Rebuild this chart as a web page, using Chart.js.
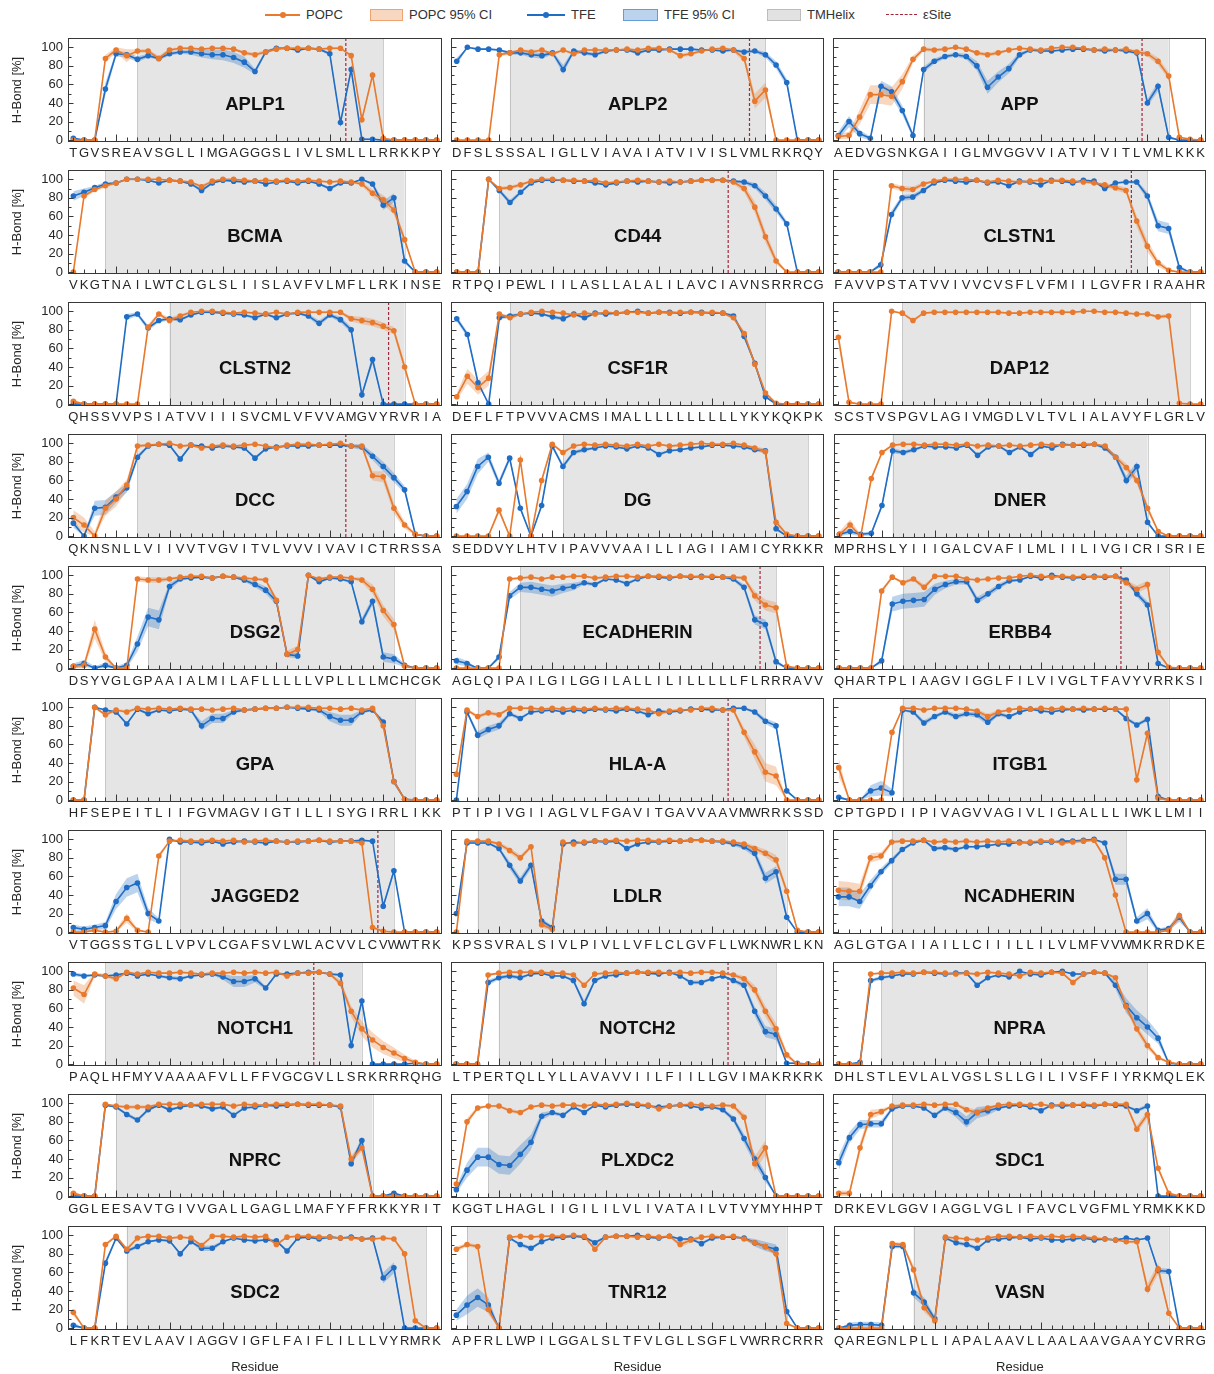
<!DOCTYPE html>
<html>
<head>
<meta charset="utf-8">
<script src="https://cdn.jsdelivr.net/npm/chart.js@4.4.1/dist/chart.umd.min.js"></script>
<style>
  body { margin: 0; background: #fff; width: 1214px; height: 1374px; position: relative; overflow: hidden;
         font-family: "Liberation Sans", Arial, sans-serif; }
  canvas { position: absolute; }
  .lg { position: absolute; top: 6px; height: 18px; line-height: 18px; font-size: 13px; color: #333; white-space: nowrap; }
</style>
</head>
<body>
<div id="legend"></div>
<script>
// ---- data ----
const proteins = ['APLP1','APLP2','APP','BCMA','CD44','CLSTN1','CLSTN2','CSF1R','DAP12','DCC','DG','DNER',
  'DSG2','ECADHERIN','ERBB4','GPA','HLA-A','ITGB1','JAGGED2','LDLR','NCADHERIN','NOTCH1','NOTCH2','NPRA',
  'NPRC','PLXDC2','SDC1','SDC2','TNR12','VASN'];

const sequences = [
  'TGVSREAVSGLLIMGAGGGSLIVLSMLLLRRKKPY','DFSLSSSALIGLLVIAVAIATVIVISLVMLRKRQY','AEDVGSNKGAIIGLMVGGVVIATVIVITLVMLKKK',
  'VKGTNAILWTCLGLSLIISLAVFVLMFLLRKINSE','RTPQIPEWLIILASLLALALILAVCIAVNSRRRCG','FAVVPSTATVVIVVCVSFLVFMIILGVFRIRAAHR',
  'QHSSVVPSIATVVIIISVCMLVFVVAMGVYRVRIA','DEFLFTPVVVACMSIMALLLLLLLLLLYKYKQKPK','SCSTVSPGVLAGIVMGDLVLTVLIALAVYFLGRLV',
  'QKNSNLLVIIVVTVGVITVLVVVIVAVICTRRSSA','SEDDVYLHTVIPAVVVAAILLIAGIIAMICYRKKR','MPRHSLYIIIGALCVAFILMLIILIVGICRISRIE',
  'DSYVGLGPAAIALMILAFLLLLLVPLLLLMCHCGK','AGLQIPAILGILGGILALLILILLLLLFLRRRAVV','QHARTPLIAAGVIGGLFILVIVGLTFAVYVRRKSI',
  'HFSEPEITLIIFGVMAGVIGTILLISYGIRRLIKK','PTIPIVGIIAGLVLFGAVITGAVVAAVMWRRKSSD','CPTGPDIIPIVAGVVAGIVLIGLALLLIWKLLMII',
  'VTGGSSTGLLVPVLCGAFSVLWLACVVLCVWWTRK','KPSSVRALSIVLPIVLLVFLCLGVFLLWKNWRLKN','AGLGTGAIIAILLCIIILLILVLMFVVWMKRRDKE',
  'PAQLHFMYVAAAAFVLLFFVGCGVLLSRKRRRQHG','LTPERTQLLYLLAVAVVIILFIILLGVIMAKRKRK','DHLSTLEVLALVGSLSLLGILIVSFFIYRKMQLEK',
  'GGLEESAVTGIVVGALLGAGLLMAFYFFRKKYRIT','KGGTLHAGLIIGILILVLIVATAILVTVYMYHHPT','DRKEVLGGVIAGGLVGLIFAVCLVGFMLYRMKKKD',
  'LFKRTEVLAAVIAGGVIGFLFAIFLILLLVYRMRK','APFRLLWPILGGALSLTFVLGLLSGFLVWRRCRRR','QAREGNLPLLIAPALAAVLLAALAAVGAAYCVRRG'];

// TM helix span (residue index start, end)
const tmHelix = [[6,29],[5,29],[8,31],[3,31],[4,30],[6,29],[9,31],[5,29],[6,33],[6,30],[10,33],[5,29],
  [7,30],[6,30],[6,31],[3,32],[2,29],[6,31],[10,30],[2,31],[5,27],[3,27],[4,30],[4,29],
  [4,28],[3,29],[5,29],[5,33],[1,31],[7,31]];

// epsilon cleavage site (between residues), null if none
const eSite = [25.5,27.5,28.5,null,25.5,27.5,29.5,null,null,25.5,null,null,
  null,28.5,26.5,null,25.5,null,28.5,null,null,22.5,25.5,null,
  null,null,null,null,null,null];

const yTicks = [0, 20, 40, 60, 80, 100];

const popcValues = [
  [0,0,0,88,97,91,96,96,88,97,99,99,98,99,99,98,94,92,95,98,99,99,99,98,99,99,91,22,70,2,0,0,0,0,0],
  [0,0,0,0,92,94,97,95,97,93,97,93,97,97,97,97,98,97,99,99,97,91,93,96,98,99,97,88,42,54,0,0,0,0,0],
  [4,5,25,49,49,47,63,87,98,97,98,100,98,94,92,94,97,99,98,97,99,100,100,99,97,98,97,98,95,93,85,69,3,1,0],
  [0,82,89,93,96,100,100,100,100,99,98,97,92,98,100,100,99,98,99,98,99,98,99,98,97,98,97,95,85,78,67,35,0,0,0],
  [0,0,0,100,90,91,94,98,100,100,99,99,98,99,96,97,98,99,98,97,98,97,98,99,99,99,97,90,70,38,12,0,0,0,0],
  [0,0,0,0,0,93,90,89,95,98,100,100,100,99,97,99,98,97,98,99,98,99,98,97,96,94,91,88,55,28,10,2,0,0,0],
  [3,0,0,0,0,0,0,83,97,90,95,99,100,100,99,98,99,98,97,99,97,99,99,99,99,99,92,90,88,84,79,40,0,0,0],
  [8,30,18,28,97,93,97,99,100,99,98,96,98,97,99,98,99,99,98,99,98,99,99,98,99,98,93,76,43,12,1,0,0,0,0],
  [72,2,0,0,0,100,98,90,98,99,99,99,99,99,99,99,98,98,99,99,99,99,99,100,100,99,99,98,97,97,94,95,1,0,0],
  [20,12,0,30,40,55,97,98,99,100,97,98,95,97,98,97,98,99,97,95,98,99,99,98,99,100,97,97,65,64,30,12,2,0,0],
  [0,0,0,0,28,0,82,0,60,99,90,97,99,98,99,98,97,99,97,99,97,98,99,100,99,99,100,98,95,91,15,2,0,0,0],
  [2,12,0,62,90,98,99,99,98,99,99,98,99,97,98,97,98,97,98,99,98,98,98,99,99,97,85,74,60,30,5,0,0,0,0],
  [2,3,42,12,0,0,96,95,95,96,98,99,99,97,99,98,97,96,95,73,15,20,100,96,98,98,97,95,85,62,47,2,0,0,0],
  [0,0,0,0,0,96,97,98,96,98,98,99,99,97,98,99,99,98,99,99,98,99,99,98,99,98,98,97,78,68,65,2,0,0,0],
  [0,0,0,0,83,98,92,96,87,99,99,99,96,95,96,97,97,99,100,99,98,99,98,99,98,99,99,92,85,90,17,1,0,0,0],
  [0,0,100,92,97,95,99,98,99,98,99,98,98,97,98,99,97,98,99,99,100,100,100,99,99,98,99,97,99,80,20,1,0,0,0],
  [28,97,90,94,92,99,99,99,98,99,98,99,98,99,98,99,99,98,97,93,96,97,97,99,99,97,97,73,52,30,26,0,0,0,0],
  [35,0,0,0,0,73,99,99,97,99,99,99,98,96,90,95,97,99,98,99,98,99,98,99,98,99,98,98,22,72,2,0,0,0,0],
  [0,0,2,0,1,15,2,0,82,98,99,98,98,99,98,99,97,98,99,98,97,98,98,99,98,98,98,96,5,1,0,0,0,0,0],
  [0,98,98,98,95,88,80,92,8,3,97,95,97,98,98,99,98,99,99,98,99,98,99,99,98,98,97,95,90,85,78,44,2,0,0],
  [45,44,44,80,82,97,98,98,99,97,98,97,98,97,98,97,98,96,97,98,98,96,97,98,99,80,40,0,0,0,0,2,18,0,0],
  [82,75,97,95,92,99,97,99,98,98,99,98,97,98,98,99,98,99,98,99,95,98,98,99,97,87,57,38,26,18,12,6,2,0,0],
  [0,0,0,96,98,99,99,99,99,98,98,96,85,97,98,99,98,99,99,99,98,99,98,99,99,98,96,92,80,57,38,10,0,0,0],
  [0,0,0,97,98,98,99,98,99,99,98,97,98,97,99,98,97,95,99,98,99,98,88,97,99,98,93,62,38,20,7,2,0,0,0],
  [3,0,0,99,97,96,96,96,99,99,99,98,99,99,99,97,99,98,98,99,99,99,99,99,98,97,40,52,0,0,0,0,0,0,0],
  [13,80,95,97,97,92,90,96,98,97,98,98,97,99,98,99,100,99,98,94,97,98,99,98,97,98,97,85,35,52,0,0,0,0,0],
  [3,3,52,88,91,97,98,98,99,98,99,99,93,90,95,98,99,99,98,99,97,99,98,99,98,99,99,99,72,88,30,3,0,0,0],
  [17,0,0,90,99,85,97,99,99,97,98,97,89,99,99,98,99,98,99,90,98,99,99,98,98,97,97,96,96,97,96,80,8,0,0],
  [85,90,88,20,0,98,99,98,99,99,99,100,99,85,98,99,99,98,99,98,99,90,95,98,99,98,99,96,92,88,80,5,0,0,0],
  [0,0,0,0,0,91,90,63,22,8,98,97,96,95,97,99,99,98,99,98,99,98,99,98,97,96,95,93,93,42,64,16,0,0,0]];

// half width of the 95% CI
const popcCI = [
  [1,0,0,4,3,7,2,2,3,2,1,1,1,1,1,1,2,2,2,1,1,1,1,1,1,1,2,3,3,1,0,0,0,0,0],
  [0,0,0,0,2,2,1,2,1,2,1,2,1,1,1,1,1,1,1,1,1,2,2,1,1,1,2,4,8,8,0,0,0,0,0],
  [3,4,8,10,10,10,8,4,2,2,1,1,1,2,2,2,1,1,1,1,1,1,1,1,1,1,1,1,2,3,4,4,1,1,0],
  [0,3,2,2,1,1,1,1,1,1,1,1,2,1,1,1,1,1,1,1,1,1,1,1,1,1,1,2,4,5,5,4,0,0,0],
  [0,0,0,1,2,2,2,1,1,1,1,1,1,1,1,1,1,1,1,1,1,1,1,1,1,1,2,4,6,6,4,0,0,0,0],
  [0,0,0,0,0,3,3,3,2,1,1,1,1,1,1,1,1,1,1,1,1,1,1,1,1,2,3,3,6,6,4,2,0,0,0],
  [3,0,0,0,0,0,0,3,2,3,2,1,1,1,1,1,1,1,1,1,1,1,1,1,1,1,3,4,4,4,4,5,0,0,0],
  [4,8,8,8,2,2,1,1,1,1,1,1,1,1,1,1,1,1,1,1,1,1,1,1,1,1,2,3,3,2,1,0,0,0,0],
  [8,2,0,0,0,1,1,2,1,1,1,1,1,1,1,1,1,1,1,1,1,1,1,1,1,1,1,1,1,1,2,2,1,0,0],
  [8,8,5,8,8,6,2,1,1,1,1,1,2,1,1,1,1,1,1,2,1,1,1,1,1,1,1,2,5,6,6,4,1,0,0],
  [0,0,0,0,4,0,3,0,3,1,2,1,1,1,1,1,1,1,1,1,1,1,1,1,1,1,1,1,2,3,4,1,0,0,0],
  [3,6,2,3,2,1,1,1,1,1,1,1,1,1,1,1,1,1,1,1,1,1,1,1,1,1,3,4,4,4,2,0,0,0,0],
  [2,3,10,5,0,0,3,3,3,2,1,1,1,1,1,1,1,1,2,4,4,4,1,2,1,1,1,3,5,6,6,2,0,0,0],
  [0,0,0,0,0,2,1,1,1,1,1,1,1,1,1,1,1,1,1,1,1,1,1,1,1,1,1,2,5,6,6,2,0,0,0],
  [0,0,0,0,3,1,2,2,3,1,1,1,1,1,1,1,1,1,1,1,1,1,1,1,1,1,1,3,4,4,3,1,0,0,0],
  [0,0,1,2,1,2,1,1,1,1,1,1,1,1,1,1,1,1,1,1,1,1,1,1,1,1,1,1,1,3,3,1,0,0,0],
  [4,2,2,2,2,1,1,1,1,1,1,1,1,1,1,1,1,1,1,2,2,1,1,1,1,1,2,5,8,10,10,0,0,0,0],
  [10,0,0,0,0,3,1,1,1,1,1,1,1,2,3,2,1,1,1,1,1,1,1,1,1,1,1,1,3,3,1,0,0,0,0],
  [0,0,2,0,2,5,2,0,3,1,1,1,1,1,1,1,1,1,1,1,1,1,1,1,1,1,1,2,2,1,0,0,0,0,0],
  [0,1,1,1,2,3,3,2,3,2,1,1,1,1,1,1,1,1,1,1,1,1,1,1,1,1,1,2,3,4,5,4,1,0,0],
  [10,10,8,5,4,2,1,1,1,1,1,1,1,1,1,1,1,2,1,1,1,2,1,1,1,3,4,0,0,0,0,2,5,0,0],
  [8,10,2,2,2,1,1,1,1,1,1,1,1,1,1,1,1,1,1,1,2,1,1,1,1,4,6,8,8,7,6,4,2,0,0],
  [0,0,0,2,1,1,1,1,1,1,1,1,2,1,1,1,1,1,1,1,1,1,1,1,1,1,2,3,5,6,6,4,0,0,0],
  [0,0,0,1,1,1,1,1,1,1,1,1,1,1,1,1,1,2,1,1,1,1,2,1,1,1,2,4,4,4,2,1,0,0,0],
  [3,0,0,2,1,2,2,2,1,1,1,1,1,1,1,1,1,1,1,1,1,1,1,1,1,1,4,4,0,0,0,0,0,0,0],
  [4,4,2,1,1,2,2,1,1,1,1,1,1,1,1,1,1,1,1,2,1,1,1,1,1,1,2,4,8,8,0,0,0,0,0],
  [3,3,6,5,3,1,1,1,1,1,1,1,3,3,2,1,1,1,1,1,1,1,1,1,1,1,1,1,4,4,3,2,0,0,0],
  [4,0,0,2,1,2,1,1,1,1,1,1,2,1,1,1,1,1,1,2,1,1,1,1,1,1,1,1,1,1,1,3,2,0,0],
  [3,2,2,5,0,1,1,1,1,1,1,1,1,2,1,1,1,1,1,1,1,3,3,1,1,1,1,1,2,2,3,2,0,0,0],
  [0,0,0,0,0,2,2,5,5,2,1,1,1,1,1,1,1,1,1,1,1,1,1,1,1,1,1,1,2,6,6,3,0,0,0]];

const tfeValues = [
  [2,0,0,55,93,92,87,91,88,93,95,95,93,92,92,89,84,74,95,99,99,97,99,98,93,19,76,1,1,0,0,0,0,0,0],
  [85,100,98,98,97,94,94,92,91,94,76,96,94,92,96,97,97,94,97,97,98,98,98,97,97,96,97,95,96,92,81,62,0,0,0],
  [5,20,7,2,58,52,32,5,76,85,90,92,90,80,57,68,77,92,97,96,96,97,98,98,97,96,97,96,94,40,58,3,0,0,0],
  [82,86,91,95,96,100,100,99,96,99,98,95,88,96,99,98,97,98,95,97,98,96,98,95,90,96,96,100,95,72,80,12,0,0,0],
  [0,0,0,100,88,75,86,96,99,99,99,98,98,96,94,96,98,97,98,97,96,97,98,99,99,99,98,97,93,82,68,52,0,0,0],
  [0,0,0,0,8,62,80,81,88,96,99,98,97,99,96,97,93,98,97,94,99,98,96,99,98,90,96,97,97,82,50,47,5,0,0],
  [0,0,0,0,0,94,97,82,90,92,91,96,99,99,98,97,96,93,97,93,97,98,95,87,96,91,80,10,48,0,0,0,0,0,0],
  [92,75,23,0,93,95,97,98,97,94,92,97,93,98,97,98,99,100,98,99,99,98,99,99,98,98,95,73,44,8,0,0,0,0,0],
  null,
  [14,0,30,31,42,52,85,97,99,98,83,98,97,95,97,96,95,84,94,96,97,97,97,98,98,98,97,96,86,75,63,50,2,0,0],
  [32,48,75,85,57,84,30,0,33,97,75,90,93,95,97,96,94,97,95,88,92,93,95,96,98,98,97,96,93,92,8,0,0,0,0],
  [2,5,2,3,33,92,90,93,97,96,96,95,98,87,96,97,90,96,88,97,95,99,98,98,99,95,85,60,75,15,0,0,0,0,0],
  [2,5,0,3,0,3,26,55,52,88,96,97,98,97,99,98,95,90,84,72,15,13,100,93,97,96,93,50,72,12,10,3,0,0,0],
  [8,5,0,0,12,78,87,87,85,83,86,88,92,90,96,95,91,96,99,98,97,99,98,99,98,98,96,87,52,47,7,0,0,0,0],
  [0,0,0,0,8,69,72,73,74,85,90,93,93,73,80,88,94,95,99,97,100,98,97,98,99,98,99,95,80,68,5,0,0,0,0],
  [0,0,100,97,95,82,98,93,97,96,98,97,80,88,88,95,97,98,99,99,100,99,98,97,90,86,86,95,97,84,20,1,0,0,0],
  [0,95,70,76,80,93,88,95,96,97,95,97,96,98,97,96,98,96,92,96,95,96,98,98,97,97,99,99,95,85,80,10,0,0,0],
  [3,0,0,10,13,8,97,95,83,90,95,90,93,92,84,93,90,95,98,96,95,97,98,97,98,98,98,88,81,87,4,0,0,0,0],
  [5,3,5,7,33,48,53,20,12,100,97,97,96,98,95,97,98,97,96,98,97,97,98,99,97,98,98,99,98,28,66,0,0,0,0],
  [20,96,96,96,90,72,55,72,12,5,95,97,96,98,97,98,90,95,97,97,98,98,99,99,98,97,95,92,85,58,65,16,0,0,0],
  [38,38,33,50,65,77,89,96,99,90,91,89,92,92,93,95,95,97,96,97,97,98,98,99,100,96,57,57,12,20,2,4,16,0,0],
  [97,95,96,95,96,98,95,97,95,93,92,95,96,97,94,89,89,92,82,97,97,98,99,99,97,96,20,68,0,0,0,0,1,0,0],
  [0,0,0,88,93,95,93,97,98,95,95,90,65,90,95,96,98,99,98,97,99,95,88,88,92,95,90,85,57,35,32,1,1,0,0],
  [0,0,2,90,93,95,97,97,99,98,97,98,98,85,93,96,94,100,97,96,99,100,97,97,99,98,85,63,50,40,28,1,0,0,0],
  [0,0,0,98,96,88,82,93,98,93,96,98,97,94,96,87,95,96,98,97,98,99,98,98,98,96,35,60,0,0,3,0,0,0,0],
  [7,28,42,42,34,33,45,58,86,90,87,96,90,98,96,98,99,98,97,96,97,98,97,95,96,93,83,62,40,20,0,0,0,0,0],
  [36,63,77,78,78,94,97,97,95,87,95,90,80,90,92,95,97,98,96,92,98,97,98,98,97,99,98,97,92,97,0,0,0,0,0],
  [3,0,0,70,97,83,88,93,95,94,80,93,86,86,93,97,95,94,95,94,83,97,98,96,98,97,98,96,97,54,65,0,0,0,0],
  [14,25,33,25,0,97,90,86,93,97,98,99,98,92,98,99,99,100,98,97,99,96,96,91,97,98,98,97,92,88,85,18,0,0,0],
  [0,3,4,4,3,88,88,38,28,10,97,92,90,86,95,96,97,98,96,97,95,95,96,97,95,96,95,97,95,97,62,61,0,0,0]];

const tfeCI = [
  [2,0,0,7,3,3,3,2,2,2,2,3,4,5,6,6,6,3,2,1,1,1,1,1,2,3,3,1,1,0,0,0,0,0,0],
  [4,1,1,1,1,2,2,3,3,2,5,2,2,2,2,1,1,2,1,1,1,1,1,1,1,1,1,2,2,3,4,4,0,0,0],
  [4,6,4,2,6,6,5,3,3,3,2,2,3,5,7,6,5,3,1,1,1,1,1,1,1,1,1,1,2,4,5,2,0,0,0],
  [5,4,2,2,1,1,1,1,1,1,1,1,2,1,1,1,1,1,1,1,1,1,1,1,2,1,1,1,2,5,5,3,0,0,0],
  [0,0,0,1,2,3,2,1,1,1,1,1,1,1,1,1,1,1,1,1,1,1,1,1,1,1,1,2,3,4,4,3,0,0,0],
  [0,1,1,1,3,4,3,3,2,1,1,1,1,1,1,1,1,1,1,1,1,1,1,1,1,2,1,1,2,4,6,6,3,0,0],
  [0,0,0,0,0,3,2,3,2,2,2,1,1,1,1,1,1,2,1,2,1,1,2,3,2,3,3,2,5,0,0,0,0,0,0],
  [3,3,3,0,2,2,1,1,1,2,2,1,2,1,1,1,1,1,1,1,1,1,1,1,1,1,2,3,3,2,0,0,0,0,0],
  null,
  [5,1,8,8,6,5,3,1,1,1,2,1,1,1,1,1,1,2,1,1,1,1,1,1,1,1,2,3,4,5,5,4,1,0,0],
  [8,8,8,5,4,3,3,0,3,2,3,2,2,1,1,1,1,1,1,2,1,1,1,1,1,1,1,1,2,2,2,0,0,0,0],
  [2,3,2,2,3,3,2,2,1,1,1,1,1,2,1,1,2,1,2,1,1,1,1,1,1,2,3,5,5,3,0,0,0,0,0],
  [3,4,2,3,2,3,8,10,10,4,2,1,1,1,1,1,2,3,4,4,3,3,1,2,1,1,2,4,4,5,5,2,0,0,0],
  [4,3,0,0,3,4,5,6,6,6,5,4,2,2,1,1,2,1,1,1,1,1,1,1,1,1,2,3,5,5,3,0,0,0,0],
  [0,0,0,0,3,8,8,8,8,6,4,3,3,4,3,3,2,1,1,1,1,1,1,1,1,1,1,2,3,4,2,0,0,0,0],
  [0,0,1,1,1,2,1,2,1,1,1,1,5,5,5,2,1,1,1,1,1,1,1,2,5,6,6,2,1,3,3,1,0,0,0],
  [0,2,4,4,4,2,2,1,1,1,1,1,1,1,1,1,1,1,2,1,1,1,1,1,1,1,1,1,2,3,4,2,0,0,0],
  [2,0,0,6,8,4,1,2,3,2,2,3,2,3,3,2,2,1,1,1,1,1,1,1,1,1,1,2,2,2,2,0,0,0,0],
  [3,3,3,4,8,10,10,6,3,1,1,1,1,1,1,1,1,1,1,1,1,1,1,1,1,1,1,1,1,3,3,0,0,0,0],
  [3,1,1,1,2,4,4,4,3,2,1,1,1,1,1,1,2,1,1,1,1,1,1,1,1,1,2,3,4,6,6,3,0,0,0],
  [10,10,8,6,4,3,2,1,1,2,2,2,1,1,1,1,1,1,1,1,1,1,1,1,1,2,6,6,4,6,2,2,5,0,0],
  [2,2,1,1,1,1,1,1,1,2,2,1,1,1,3,6,6,4,2,1,1,1,1,1,1,2,3,4,0,0,0,0,1,0,0],
  [0,0,0,3,2,2,2,1,1,1,1,2,4,2,1,1,1,1,1,1,1,1,2,2,1,1,2,3,5,6,6,1,1,0,0],
  [0,0,1,2,2,1,1,1,1,1,1,1,1,2,1,1,1,1,1,1,1,1,1,1,1,1,4,8,8,8,6,1,0,0,0],
  [0,0,0,1,1,2,2,2,1,2,1,1,1,2,1,2,1,1,1,1,1,1,1,1,1,1,4,4,0,0,2,0,0,0,0],
  [4,8,10,10,10,10,10,8,4,2,2,1,2,1,1,1,1,1,1,1,1,1,1,1,1,2,3,5,6,5,0,0,0,0,0],
  [8,6,5,4,4,2,1,1,1,2,2,5,6,6,5,2,1,1,1,2,1,1,1,1,1,1,1,1,2,2,0,0,0,0,0],
  [3,0,0,4,1,2,2,1,1,1,2,1,3,3,1,1,1,1,1,1,2,1,1,1,1,1,1,1,1,6,6,0,0,0,0],
  [6,10,10,8,0,1,2,2,1,1,1,1,1,2,1,1,1,1,1,1,1,1,1,2,1,1,1,1,4,5,5,2,0,0,0],
  [0,3,3,3,3,2,2,5,5,3,1,2,2,2,1,1,1,1,1,1,1,1,1,1,1,1,1,1,1,1,3,3,0,0,0]];

// ---- styling ----
const FONT = '"Liberation Sans", Arial, sans-serif';
const ORANGE = '#e8792d', ORANGE_FILL = 'rgba(232,121,45,0.3)';
const BLUE = '#1f6dc5', BLUE_FILL = 'rgba(31,109,197,0.3)';
const ESITE = '#a3283a';
const TM_FILL = 'rgba(160,160,160,0.28)';

Chart.defaults.font.family = FONT;
Chart.defaults.animation = false;

// legend (html)
const legend = document.getElementById('legend');
[
  { kind: 'line', color: ORANGE, text: 'POPC', x: 265, w: 35 },
  { kind: 'box', color: ORANGE_FILL, edge: 'rgba(232,121,45,0.55)', text: 'POPC 95% CI', x: 370, w: 33 },
  { kind: 'line', color: BLUE, text: 'TFE', x: 527, w: 38 },
  { kind: 'box', color: BLUE_FILL, edge: 'rgba(31,109,197,0.55)', text: 'TFE 95% CI', x: 623, w: 35 },
  { kind: 'box', color: 'rgba(160,160,160,0.3)', edge: 'rgba(150,150,150,0.5)', text: 'TMHelix', x: 767, w: 34 },
  { kind: 'dash', color: ESITE, text: 'εSite', x: 886, w: 31 }
].forEach(it => {
  const d = document.createElement('div');
  d.className = 'lg';
  d.style.left = it.x + 'px';
  let sample = '';
  if (it.kind === 'line') {
    sample = `<span style="position:absolute;left:0;top:8px;width:${it.w}px;border-top:2px solid ${it.color}"></span>` +
      `<span style="position:absolute;left:${it.w / 2 - 3}px;top:6px;width:6px;height:6px;border-radius:3px;background:${it.color}"></span>`;
  } else if (it.kind === 'box') {
    sample = `<span style="position:absolute;left:0;top:3px;width:${it.w - 2}px;height:10px;background:${it.color};border:1px solid ${it.edge}"></span>`;
  } else {
    sample = `<span style="position:absolute;left:0;top:8px;width:${it.w}px;border-top:1.5px dashed ${it.color}"></span>`;
  }
  d.innerHTML = sample + `<span style="position:absolute;left:${it.w + 6}px;top:0">${it.text}</span>`;
  legend.appendChild(d);
});

// TM helix band, epsilon site, panel name, frame and inward ticks
const panelDecor = {
  id: 'panelDecor',
  beforeDatasetsDraw(chart, args, opts) {
    const { ctx, chartArea: a, scales: { x } } = chart;
    const x0 = x.getPixelForValue(opts.tm[0]);
    const x1 = x.getPixelForValue(opts.tm[1]);
    ctx.save();
    ctx.fillStyle = TM_FILL;
    ctx.fillRect(x0, a.top, x1 - x0, a.bottom - a.top);
    ctx.strokeStyle = 'rgba(150,150,150,0.45)';
    ctx.lineWidth = 1;
    ctx.beginPath();
    ctx.moveTo(Math.round(x0) + 0.5, a.top); ctx.lineTo(Math.round(x0) + 0.5, a.bottom);
    ctx.moveTo(Math.round(x1) + 0.5, a.top); ctx.lineTo(Math.round(x1) + 0.5, a.bottom);
    ctx.stroke();
    if (opts.esite !== null) {
      const xe = x.getPixelForValue(opts.esite);
      ctx.strokeStyle = ESITE;
      ctx.lineWidth = 1.2;
      ctx.setLineDash([3, 2]);
      ctx.beginPath();
      ctx.moveTo(xe, a.top); ctx.lineTo(xe, a.bottom);
      ctx.stroke();
    }
    ctx.restore();
  },
  afterDatasetsDraw(chart, args, opts) {
    const { ctx, chartArea: a, scales: { y } } = chart;
    ctx.save();
    ctx.fillStyle = '#111';
    ctx.font = 'bold 18.5px ' + FONT;
    ctx.textAlign = 'center';
    ctx.textBaseline = 'middle';
    ctx.fillText(opts.name, (a.left + a.right) / 2, y.getPixelForValue(38));
    ctx.restore();
  },
  afterDraw(chart) {
    const { ctx, chartArea: a, scales: { x, y } } = chart;
    const L = Math.round(a.left) + 0.5, T = Math.round(a.top) + 0.5;
    const R = Math.round(a.right) - 0.5, B = Math.round(a.bottom) - 0.5;
    ctx.save();
    ctx.strokeStyle = '#383838';
    ctx.lineWidth = 1;
    ctx.strokeRect(L, T, R - L, B - T);
    ctx.beginPath();
    const n = chart.data.labels.length;
    for (let i = 0; i < n; i++) {
      const px = Math.round(x.getPixelForValue(i)) + 0.5;
      const len = (i + 1) % 5 === 0 ? 7 : 4;
      ctx.moveTo(px, B); ctx.lineTo(px, B - len);
    }
    for (let v = 0; v <= 100; v += 10) {
      const py = Math.round(y.getPixelForValue(v)) + 0.5;
      const len = v % 20 === 0 ? 5 : 3;
      ctx.moveTo(L, py); ctx.lineTo(L + len, py);
    }
    ctx.stroke();
    ctx.restore();
  }
};

function band(vals, err, fill, tag) {
  return [
    { label: tag + ' lo', data: vals.map((v, i) => Math.max(0, v - err[i])), borderColor: 'rgba(0,0,0,0)',
      borderWidth: 1, pointRadius: 0, fill: false, order: 2 },
    { label: tag + ' hi', data: vals.map((v, i) => Math.min(100, v + err[i])), borderColor: 'rgba(0,0,0,0)',
      borderWidth: 1, pointRadius: 0, backgroundColor: fill, fill: '-1', order: 2 }
  ];
}

function line(vals, color, tag, order) {
  return { label: tag, data: vals, borderColor: color, backgroundColor: color, borderWidth: 1.6,
    pointRadius: 2.8, pointBorderWidth: 0, pointBackgroundColor: color, pointHoverRadius: 0,
    fill: false, tension: 0, order: order };
}

const frameLeft = [68, 450, 832];

proteins.forEach((name, k) => {
  const r = Math.floor(k / 3), c = k % 3;
  const last = r === 9;
  const padL = c === 0 ? 0 : 2;
  const yW = c === 0 ? 62 : 0;
  const W = padL + yW + 374 + 4;
  const H = 4 + 104 + (last ? 48 : 22);

  const canvas = document.createElement('canvas');
  canvas.width = W; canvas.height = H;
  canvas.style.width = W + 'px'; canvas.style.height = H + 'px';
  canvas.style.left = (frameLeft[c] - yW - padL) + 'px';
  canvas.style.top = (38 + 132 * r - 4) + 'px';
  document.body.appendChild(canvas);

  const datasets = [line(popcValues[k], ORANGE, 'POPC', 0)];
  if (tfeValues[k]) datasets.push(line(tfeValues[k], BLUE, 'TFE', 1));
  datasets.push(...band(popcValues[k], popcCI[k], ORANGE_FILL, 'POPC'));
  if (tfeValues[k]) datasets.push(...band(tfeValues[k], tfeCI[k], BLUE_FILL, 'TFE'));

  new Chart(canvas, {
    type: 'line',
    data: { labels: sequences[k].split(''), datasets: datasets },
    options: {
      responsive: false,
      devicePixelRatio: 1,
      events: [],
      layout: { padding: { left: padL, right: 4, top: 4, bottom: 0 } },
      plugins: {
        legend: { display: false },
        tooltip: { enabled: false },
        panelDecor: { name: name, tm: tmHelix[k], esite: eSite[k] }
      },
      scales: {
        x: {
          type: 'category',
          offset: true,
          grid: { display: false, drawTicks: false },
          border: { display: false },
          ticks: { autoSkip: false, maxRotation: 0, minRotation: 0, padding: 4, color: '#262626', font: { size: 13 } },
          title: { display: last, text: 'Residue', color: '#262626', font: { size: 13 }, padding: { top: 0, bottom: 3 } },
          afterFit: s => { s.height = last ? 48 : 22; }
        },
        y: {
          min: -2, max: 110,
          display: c === 0,
          grid: { display: false, drawTicks: false },
          border: { display: false },
          afterBuildTicks: s => { s.ticks = yTicks.map(v => ({ value: v })); },
          ticks: { padding: 5, color: '#262626', font: { size: 13 } },
          title: { display: true, text: 'H-Bond [%]', color: '#262626', font: { size: 13 }, padding: { top: 4, bottom: 0 } },
          afterFit: s => { s.width = yW; s.paddingTop = 0; s.paddingBottom = 0; }
        }
      }
    },
    plugins: [panelDecor]
  });
});
</script>
</body>
</html>
